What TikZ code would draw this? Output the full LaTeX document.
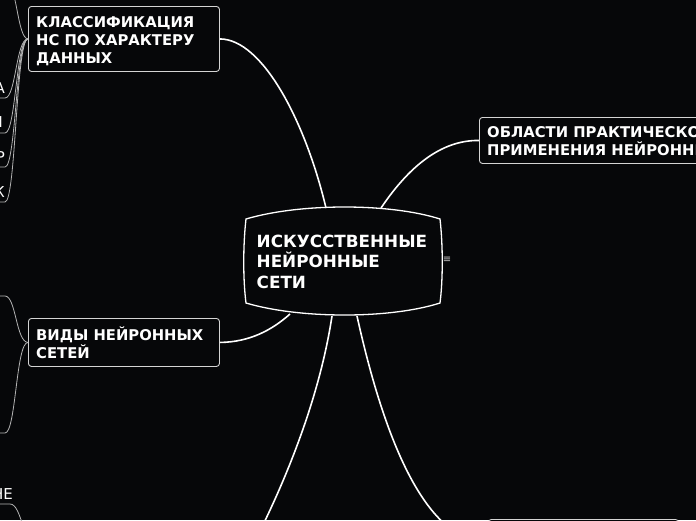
\documentclass[tikz,border=0pt]{standalone}
\usepackage{fontspec}
\setmainfont{DejaVu Sans}
\definecolor{bg}{HTML}{060709}
\definecolor{boxgray}{HTML}{D4D4D4}
\definecolor{leafgray}{HTML}{B4B4B4}
\definecolor{menugray}{HTML}{C8C8C8}
\newcommand\mytightlines{\lineskiplimit=-20pt\relax}
\begin{document}
\begin{tikzpicture}[x=1pt,y=-1pt,
  box/.style={draw=boxgray, line width=0.9pt, rounded corners=3pt, fill=bg, anchor=north west, inner sep=0pt},
  boxtext/.style={anchor=north west, inner sep=0pt, align=left, text=white, font=\bfseries\fontsize{14.8}{18}\selectfont\mytightlines},
  centertext/.style={anchor=north west, inner sep=0pt, align=left, text=white, font=\bfseries\fontsize{16.8}{20.5}\selectfont\mytightlines},
  mainline/.style={draw=white, line width=1.6pt},
  leafline/.style={draw=leafgray, line width=0.8pt},
  leaftext/.style={anchor=base east, inner sep=0pt, text=white, font=\fontsize{15}{18}\selectfont}]
\useasboundingbox (0,0) rectangle (696,520);
\fill[bg] (0,0) rectangle (696,520);
\clip (0,0) rectangle (696,520);

% central node
\node[minimum width=196pt, minimum height=109pt, inner sep=0pt] (c) at (343.5,261.5) {};
\draw[white, line width=1.3pt, fill=bg]
  (246,219) .. controls (300,203) and (390,203) .. (440,219)
  .. controls (443,245) and (443,280) .. (440,303)
  .. controls (390,319) and (300,319) .. (246,303)
  .. controls (243,280) and (243,245) .. (246,219) -- cycle;
\node[centertext] (ct) at (256.5,232.6) {\strut ИСКУССТВЕННЫЕ\\НЕЙРОННЫЕ\\СЕТИ};
\node[text=menugray, font=\fontsize{10}{10}\selectfont, inner sep=0pt] (menu) at (447,260) {≡};

\coordinate (c1) at (326,208);
\coordinate (c2) at (381,208);
\coordinate (c3) at (290,314);
\coordinate (c4) at (332,316);
\coordinate (c5) at (357,316);
\coordinate (e4) at (258,535);

% boxes
\node[box, minimum width=191pt, minimum height=65pt] (b1) at (28,6) {};
\node[box, minimum width=260pt, minimum height=46pt] (b2) at (479,117) {};
\node[box, minimum width=191pt, minimum height=48pt] (b3) at (28,318) {};
\node[box, minimum width=190pt, minimum height=46pt] (b4) at (488,519) {};

\node[boxtext] (t1) at (36,14.4) {\strut КЛАССИФИКАЦИЯ\\НС ПО ХАРАКТЕРУ\\ДАННЫХ};
\node[boxtext] (t2) at (487,124.4) {\strut ОБЛАСТИ ПРАКТИЧЕСКОГО\\ПРИМЕНЕНИЯ НЕЙРОННЫХ};
\node[boxtext] (t3) at (36,326.4) {\strut ВИДЫ НЕЙРОННЫХ\\СЕТЕЙ};

% main connectors
\draw[mainline] (c1) .. controls (305,120) and (262,39) .. (b1.east);
\draw[mainline] (c2) .. controls (408,168) and (440,140) .. (b2.west);
\draw[mainline] (c3) .. controls (272,330) and (250,342) .. (b3.east);
\draw[mainline] (c4) .. controls (320,395) and (288,475) .. (e4);
\draw[mainline] (c5) .. controls (380,420) and (420,542) .. (b4.west);

% leaves of b1
\coordinate (u0) at (5,-20);
\coordinate (u1) at (-20,98);
\coordinate (u2) at (-20,133);
\coordinate (u3) at (-20,167);
\coordinate (u4) at (-20,202);
\draw[leafline] (b1.west) .. controls (17,38.5) and (17,-20) .. (u0);
\draw[leafline] (b1.west) .. controls (16,38.5) and (16,98) .. (5,98) -- (u1);
\draw[leafline] (b1.west) .. controls (16,38.5) and (16,133) .. (5,133) -- (u2);
\draw[leafline] (b1.west) .. controls (16,38.5) and (16,167) .. (5,167) -- (u3);
\draw[leafline] (b1.west) .. controls (16,38.5) and (16,202) .. (5,202) -- (u4);
\node[leaftext] (l1) at (5,93) {А};
\node[leaftext] (l2) at (3,127) {И};
\node[leaftext] (l3) at (5,162) {Р};
\node[leaftext] (l4) at (5,197) {К};

% leaves of b3
\coordinate (v1) at (-20,296);
\coordinate (v2) at (-20,433);
\draw[leafline] (b3.west) .. controls (16,342) and (16,296) .. (5,296) -- (v1);
\draw[leafline] (b3.west) .. controls (16,342) and (16,433) .. (5,433) -- (v2);

% bottom-left leaf
\coordinate (p6) at (40,545);
\coordinate (u6) at (-20,504);
\draw[leafline] (p6) .. controls (22,545) and (22,504) .. (10,504) -- (u6);
\node[leaftext] (l6) at (13,499) {НЕ};
\end{tikzpicture}
\end{document}
